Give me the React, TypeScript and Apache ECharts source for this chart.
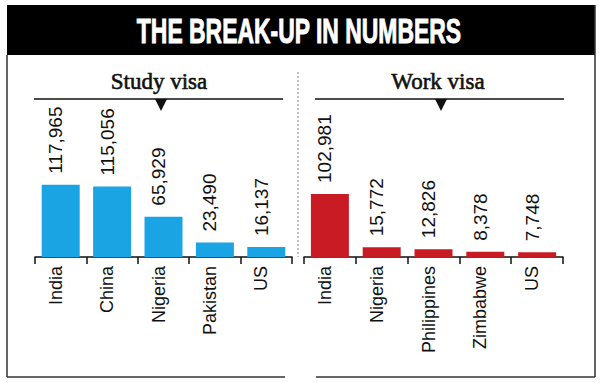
import React, { useEffect, useRef } from "react";
import * as echarts from "echarts";

const titleText = "THE BREAK-UP IN NUMBERS";
const studyTitle = "Study visa";
const workTitle = "Work visa";
const studyCountries = ["India", "China", "Nigeria", "Pakistan", "US"];
const studyValues = [117965, 115056, 65929, 23490, 16137];
const workCountries = ["India", "Nigeria", "Philippines", "Zimbabwe", "US"];
const workValues = [102981, 15772, 12826, 8378, 7748];

const BLUE = "#1ba4e4";
const RED = "#c91b24";
const SANS = "'Liberation Sans', Arial, sans-serif";

export default function App() {
  const ref = useRef<HTMLDivElement>(null);
  useEffect(() => {
    if (!ref.current) return;
    const chart = echarts.init(ref.current, undefined, { renderer: "svg" });
    const fmt = (p: any) => Number(p.value).toLocaleString("en-US");
    const axisBase = (gridIndex: number, data: string[]) => ({
      type: "category" as const,
      gridIndex,
      data,
      axisLine: { lineStyle: { color: "#111", width: 1.5 } },
      axisTick: { show: true, length: 7, lineStyle: { color: "#111", width: 1.5 } },
      axisLabel: {
        rotate: 90,
        fontSize: 18,
        fontFamily: SANS,
        color: "#111",
        margin: 9,
        interval: 0,
        verticalAlign: "bottom",
        lineHeight: 10,
      },
    });
    const labelBase = {
      show: true,
      position: "top" as const,
      rotate: 90,
      align: "left",
      verticalAlign: "bottom",
      lineHeight: 10,
      distance: 11,
      fontSize: 19,
      fontFamily: SANS,
      color: "#111",
      formatter: fmt,
    };
    chart.setOption({
      animation: false,
      grid: [
        { left: 35, width: 257, top: 107, height: 150 },
        { left: 304, width: 259, top: 107, height: 150 },
      ],
      xAxis: [axisBase(0, studyCountries), axisBase(1, workCountries)],
      yAxis: [
        { type: "value", gridIndex: 0, min: 0, max: 245000, show: false },
        { type: "value", gridIndex: 1, min: 0, max: 245000, show: false },
      ],
      series: [
        {
          type: "bar",
          xAxisIndex: 0,
          yAxisIndex: 0,
          data: studyValues,
          barWidth: 38,
          itemStyle: { color: BLUE },
          label: labelBase,
        },
        {
          type: "bar",
          xAxisIndex: 1,
          yAxisIndex: 1,
          data: workValues,
          barWidth: 38,
          itemStyle: { color: RED },
          label: labelBase,
        },
      ],
      graphic: [
        { type: "rect", shape: { x: 7, y: 5, width: 588, height: 50 }, style: { fill: "#000" } },
        {
          type: "text",
          x: 299,
          y: 31,
          scaleX: 0.655,
          style: {
            text: titleText,
            fill: "#fff",
            stroke: "#fff",
            lineWidth: 1,
            font: "bold 35px 'Liberation Sans', Arial, sans-serif",
            align: "center",
            verticalAlign: "middle",
          },
        },
        { type: "line", shape: { x1: 7, y1: 55, x2: 7, y2: 377 }, style: { stroke: "#333", lineWidth: 1.5 } },
        { type: "line", shape: { x1: 595, y1: 5, x2: 595, y2: 377 }, style: { stroke: "#333", lineWidth: 1.5 } },
        { type: "line", shape: { x1: 7, y1: 377, x2: 285, y2: 377 }, style: { stroke: "#333", lineWidth: 1.5 } },
        { type: "line", shape: { x1: 316, y1: 377, x2: 595, y2: 377 }, style: { stroke: "#333", lineWidth: 1.5 } },
        {
          type: "text",
          x: 159,
          y: 81,
          style: {
            text: studyTitle,
            fill: "#111",
            stroke: "#111",
            lineWidth: 0.6,
            font: "23px 'Liberation Serif', 'DejaVu Serif', serif",
            align: "center",
            verticalAlign: "middle",
          },
        },
        {
          type: "text",
          x: 438,
          y: 81,
          style: {
            text: workTitle,
            fill: "#111",
            stroke: "#111",
            lineWidth: 0.6,
            font: "23px 'Liberation Serif', 'DejaVu Serif', serif",
            align: "center",
            verticalAlign: "middle",
          },
        },
        { type: "line", shape: { x1: 34, y1: 99, x2: 283, y2: 99 }, style: { stroke: "#111", lineWidth: 1.5 } },
        { type: "line", shape: { x1: 315, y1: 99, x2: 564, y2: 99 }, style: { stroke: "#111", lineWidth: 1.5 } },
        { type: "polygon", shape: { points: [[155, 99], [167, 99], [161, 111]] }, style: { fill: "#111" } },
        { type: "polygon", shape: { points: [[435, 99], [447, 99], [441, 111]] }, style: { fill: "#111" } },
        {
          type: "line",
          shape: { x1: 298, y1: 72, x2: 298, y2: 257 },
          style: { stroke: "#888", lineWidth: 1, lineDash: [2, 2] },
        },
      ],
    });
    return () => chart.dispose();
  }, []);
  return (
    <div
      ref={ref}
      style={{ position: "fixed", left: 0, top: 0, width: 600, height: 383, background: "#fff" }}
    />
  );
}
